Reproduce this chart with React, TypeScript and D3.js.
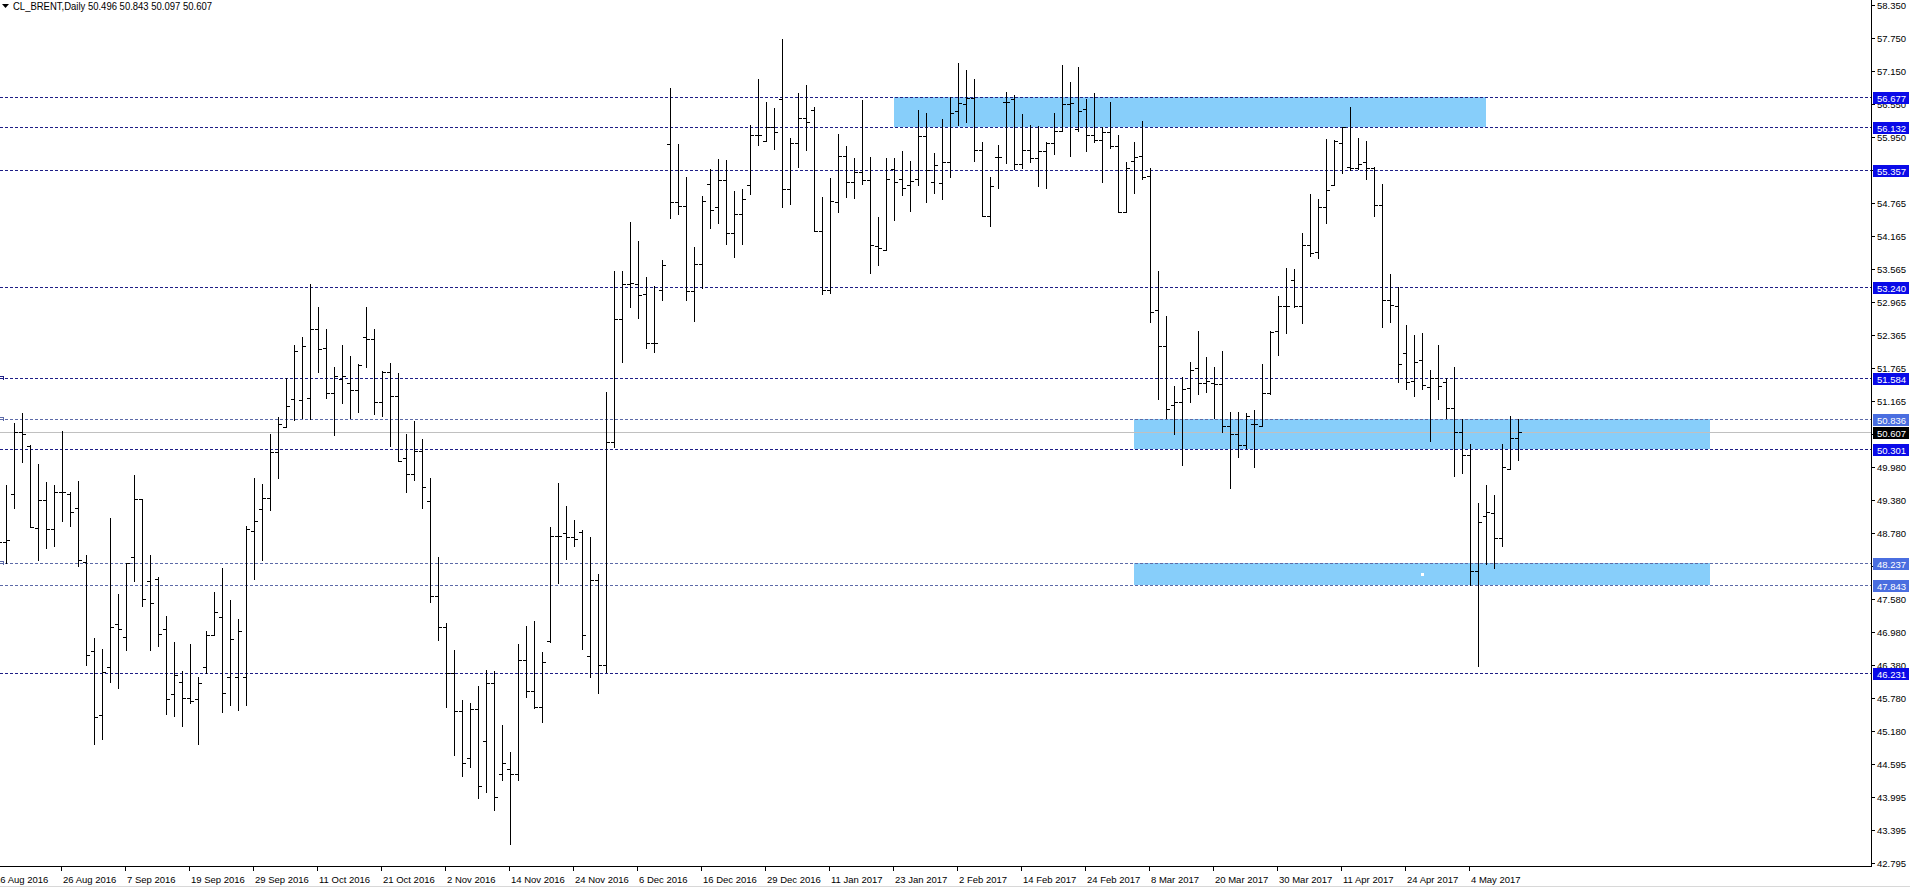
import React from 'react';
import * as d3 from 'd3';

const W = 1910;
const H = 888;
const PLOT_RIGHT = 1871;
const PLOT_BOTTOM = 866;

const symbolTitle = 'CL_BRENT,Daily';
const lastQuote = ['50.496', '50.843', '50.097', '50.607'];

// Daily OHLC bars, one entry per trading day starting 16 Aug 2016
const opens = [
  48.90, 48.61, 49.48, 50.60, 50.35, 48.86, 49.37, 48.85, 49.53, 49.48,
  49.23, 48.25, 46.63, 45.47, 46.35, 47.13, 46.90, 48.34, 49.39, 47.90,
  47.94, 47.03, 45.85, 46.08, 45.79, 45.76, 46.34, 46.92, 47.25, 46.17,
  46.16, 46.17, 48.81, 49.22, 49.41, 50.24, 50.70, 51.20, 51.19, 51.23,
  52.47, 52.14, 51.31, 51.57, 51.50, 51.37, 52.34, 52.30, 51.15, 51.69,
  51.26, 50.13, 49.84, 50.26, 49.35, 47.64, 47.07, 46.24, 45.55, 44.70,
  45.59, 45.00, 46.05, 44.40, 44.50, 44.40, 46.48, 45.91, 45.62, 46.82,
  48.73, 48.77, 48.71, 48.80, 46.54, 47.93, 46.38, 50.42, 52.65, 53.29,
  53.29, 53.11, 52.22, 53.19, 55.83, 54.77, 54.70, 53.16, 53.66, 55.10,
  54.68, 55.17, 54.21, 54.57, 55.09, 56.00, 55.88, 56.14, 56.64, 55.02,
  55.85, 56.31, 56.44, 54.26, 53.18, 54.78, 55.61, 55.15, 55.33, 55.17,
  53.98, 53.91, 55.38, 55.19, 55.09, 55.19, 55.97, 55.15, 55.13, 55.50,
  56.43, 56.56, 56.66, 55.73, 54.53, 55.60, 56.59, 56.65, 55.46, 55.72,
  55.57, 55.70, 55.84, 56.07, 56.55, 56.10, 56.46, 56.00, 55.91, 56.05,
  55.80, 54.59, 55.52, 55.61, 55.25, 52.82, 52.16, 51.09, 51.15, 51.40,
  51.76, 51.49, 51.50, 51.47, 50.72, 50.58, 50.38, 50.75, 50.72, 51.31,
  52.44, 52.89, 53.36, 52.90, 54.00, 53.87, 54.68, 55.09, 55.84, 55.42,
  55.40, 55.50, 55.40, 54.72, 53.00, 52.89, 52.05, 51.54, 51.92, 51.43,
  51.59, 51.52, 51.05, 50.60, 50.19, 48.09, 49.08, 49.14, 48.68, 49.94,
  50.496,
];
const highs = [
  49.20, 49.65, 50.78, 50.96, 50.38, 50.03, 49.70, 49.65, 50.63, 49.52,
  49.72, 48.37, 46.87, 46.67, 49.05, 47.67, 48.23, 49.83, 49.39, 48.37,
  47.98, 47.27, 46.80, 46.28, 46.76, 46.16, 47.00, 47.70, 48.14, 47.57,
  47.22, 48.91, 49.77, 49.67, 50.57, 50.88, 51.59, 52.19, 52.34, 53.29,
  52.88, 52.47, 51.78, 52.19, 51.99, 51.84, 52.88, 52.48, 51.72, 51.86,
  51.68, 50.57, 50.81, 50.49, 49.78, 48.34, 47.14, 46.66, 45.75, 45.69,
  46.00, 46.30, 46.27, 45.30, 44.80, 46.77, 47.09, 47.19, 46.62, 48.88,
  49.69, 49.26, 49.01, 48.83, 48.71, 48.04, 51.34, 53.52, 53.52, 54.42,
  54.08, 53.41, 53.26, 53.72, 56.84, 55.83, 55.24, 53.96, 54.89, 55.38,
  55.56, 55.54, 54.98, 55.02, 56.18, 57.00, 56.60, 56.48, 57.73, 55.93,
  56.76, 56.90, 56.50, 54.87, 55.22, 56.01, 55.79, 55.58, 56.62, 55.59,
  54.51, 55.57, 55.57, 55.70, 55.52, 56.45, 56.40, 55.66, 56.28, 56.69,
  57.29, 57.17, 57.01, 55.86, 55.24, 55.81, 56.77, 56.72, 56.37, 56.17,
  56.16, 55.86, 56.40, 57.26, 56.96, 57.22, 56.64, 56.75, 56.13, 56.59,
  55.99, 55.51, 55.86, 56.25, 55.40, 53.53, 52.71, 51.44, 51.60, 51.87,
  52.44, 51.96, 51.78, 52.08, 50.98, 50.97, 50.95, 51.01, 51.84, 52.44,
  53.08, 53.59, 53.56, 54.21, 54.92, 54.83, 55.92, 55.90, 56.13, 56.50,
  55.94, 55.88, 55.42, 55.11, 53.47, 53.23, 52.54, 52.37, 52.41, 51.74,
  52.18, 51.59, 51.79, 50.84, 50.40, 49.32, 49.65, 49.47, 50.39, 50.90,
  50.843,
];
const lows = [
  48.30, 48.24, 49.23, 50.06, 48.88, 48.29, 48.51, 48.54, 48.99, 48.91,
  48.18, 46.39, 44.95, 45.04, 46.08, 45.97, 46.65, 47.90, 47.45, 46.65,
  46.73, 45.49, 45.46, 45.28, 45.70, 44.95, 46.24, 46.92, 45.54, 45.66,
  45.57, 45.66, 47.95, 48.29, 49.20, 49.78, 50.70, 50.82, 50.86, 50.85,
  51.69, 51.22, 50.55, 51.14, 50.86, 50.98, 51.78, 50.94, 50.89, 50.35,
  50.09, 49.52, 49.73, 49.23, 47.53, 46.84, 45.63, 44.75, 44.37, 44.53,
  43.97, 44.08, 43.76, 44.30, 43.14, 44.30, 45.81, 45.61, 45.36, 46.80,
  47.88, 48.31, 48.55, 46.68, 46.16, 45.87, 46.26, 50.33, 51.87, 52.87,
  52.68, 52.14, 52.06, 53.00, 54.49, 54.57, 53.01, 52.62, 53.22, 54.30,
  54.39, 54.02, 53.78, 54.02, 54.93, 55.82, 55.88, 55.74, 54.69, 54.74,
  55.42, 55.72, 54.25, 53.11, 53.13, 54.59, 54.87, 54.85, 55.10, 53.49,
  53.64, 53.90, 54.45, 54.91, 54.62, 55.09, 54.78, 54.94, 54.83, 55.23,
  56.17, 56.23, 55.53, 54.52, 54.35, 55.04, 55.49, 55.37, 55.40, 55.50,
  55.06, 55.04, 55.65, 56.07, 55.62, 56.07, 55.71, 55.87, 55.15, 55.76,
  54.59, 54.59, 54.94, 55.20, 52.60, 51.20, 50.86, 50.57, 50.01, 51.15,
  51.29, 51.34, 50.86, 50.60, 49.59, 50.15, 50.31, 49.97, 50.72, 51.30,
  52.01, 52.41, 52.88, 52.58, 53.80, 53.77, 54.40, 55.08, 55.31, 55.36,
  55.37, 55.19, 54.52, 52.52, 52.61, 51.52, 51.39, 51.27, 51.39, 50.44,
  51.20, 50.86, 49.82, 49.86, 47.84, 46.36, 48.22, 48.14, 48.55, 49.94,
  50.097,
];
const closes = [
  48.62, 48.65, 50.61, 50.57, 48.89, 49.38, 48.85, 49.52, 49.53, 49.15,
  48.28, 46.57, 45.45, 46.25, 47.08, 47.03, 48.23, 49.39, 47.59, 47.51,
  46.95, 45.76, 46.20, 45.79, 45.74, 46.06, 46.92, 47.34, 45.87, 46.85,
  47.00, 48.85, 48.99, 49.41, 50.24, 50.75, 51.08, 52.08, 52.17, 52.47,
  52.12, 51.31, 51.63, 51.63, 51.37, 51.82, 52.30, 51.15, 51.70, 51.26,
  50.09, 49.84, 50.26, 49.61, 47.63, 47.07, 46.24, 45.55, 44.60, 45.59,
  44.20, 46.05, 44.00, 44.60, 44.40, 46.48, 45.91, 45.62, 46.44, 48.73,
  48.73, 48.71, 48.67, 46.93, 47.93, 46.38, 50.42, 52.65, 53.29, 53.31,
  53.09, 52.22, 52.22, 53.64, 54.77, 54.70, 53.16, 53.66, 54.79, 54.63,
  55.17, 54.21, 54.57, 54.84, 56.00, 56.00, 56.14, 56.05, 55.02, 55.85,
  56.31, 56.23, 54.26, 53.18, 54.79, 55.61, 55.15, 55.33, 55.17, 53.99,
  53.94, 55.20, 55.15, 55.04, 55.16, 55.97, 55.36, 55.45, 55.50, 56.40,
  56.57, 56.66, 55.73, 54.53, 55.06, 55.59, 56.59, 55.46, 55.72, 55.57,
  55.70, 55.84, 56.07, 56.55, 56.57, 56.42, 56.00, 55.91, 56.05, 55.80,
  54.59, 55.39, 55.60, 55.24, 52.78, 52.16, 51.02, 51.15, 51.38, 51.73,
  51.50, 51.53, 51.47, 50.72, 50.58, 50.38, 50.90, 50.75, 51.32, 52.43,
  52.89, 52.89, 52.90, 54.00, 53.85, 54.68, 55.00, 55.88, 56.13, 55.39,
  55.47, 55.39, 54.72, 53.00, 52.91, 51.85, 51.52, 51.87, 51.46, 51.59,
  51.44, 51.05, 50.60, 50.19, 48.09, 48.98, 49.15, 48.68, 49.98, 50.50,
  50.607,
];

// Time axis labels: one every 8 bars, starting at bar 0
const dateLabels = [
  '16 Aug 2016', '26 Aug 2016', '7 Sep 2016', '19 Sep 2016', '29 Sep 2016',
  '11 Oct 2016', '21 Oct 2016', '2 Nov 2016', '14 Nov 2016', '24 Nov 2016',
  '6 Dec 2016', '16 Dec 2016', '29 Dec 2016', '11 Jan 2017', '23 Jan 2017',
  '2 Feb 2017', '14 Feb 2017', '24 Feb 2017', '8 Mar 2017', '20 Mar 2017',
  '30 Mar 2017', '11 Apr 2017', '24 Apr 2017', '4 May 2017',
];
const labelStep = 8;

const priceTicks = [
  58.350, 57.750, 57.150, 56.550, 55.950, 55.350, 54.765, 54.165, 53.565,
  52.965, 52.365, 51.765, 51.165, 50.565, 49.980, 49.380, 48.780, 48.180,
  47.580, 46.980, 46.380, 45.780, 45.180, 44.595, 43.995, 43.395, 42.795,
];

// Horizontal levels
const levelPrices = [56.677, 56.132, 55.357, 53.240, 51.584, 50.836, 50.301, 48.237, 47.843, 46.231];
const levelKinds = ['dark', 'dark', 'dark', 'dark', 'dark', 'light', 'dark', 'light', 'light', 'dark'];
const markedLevels = [51.584, 50.836, 48.237];

// Zones (bar index from/to, price top/bottom)
const zoneFrom = [112, 142, 142];
const zoneTo = [186, 214, 214];
const zoneTop = [56.677, 50.836, 48.237];
const zoneBottom = [56.132, 50.301, 47.843];

const bidPrice = 50.607;

const FONT = '"Liberation Sans", Arial, sans-serif';
const LINE_DARK = '#1e1e86';
const LINE_LIGHT = '#5c6aa8';
const LABEL_DARK = '#0a0ae8';
const LABEL_LIGHT = '#4a6ee0';

export default function App() {
  const n = opens.length;
  const x = d3.scaleLinear().domain([0, n - 1]).range([-2, -2 + 8 * (n - 1)]);
  const y = d3.scaleLinear().domain([42.795, 58.35]).range([863, 5]);
  const px = (i: number) => Math.round(x(i));
  const py = (p: number) => Math.round(y(p));

  const bars = d3.range(n).map((i) => {
    const xi = px(i);
    const yh = py(highs[i]);
    const yl = py(lows[i]);
    return (
      <g key={i}>
        <rect x={xi} y={yh} width={1} height={Math.max(1, yl - yh + 1)} fill="#000" />
        <rect x={xi - 3} y={py(opens[i])} width={3} height={1} fill="#000" />
        <rect x={xi + 1} y={py(closes[i])} width={3} height={1} fill="#000" />
      </g>
    );
  });

  return (
    <svg
      width={W}
      height={H}
      style={{ position: 'absolute', left: 0, top: 0, background: '#fff' }}
      shapeRendering="crispEdges"
    >
      <rect x={0} y={0} width={W} height={H} fill="#fff" />

      {/* zones */}
      {zoneFrom.map((f, k) => (
        <rect
          key={'z' + k}
          x={px(f)}
          y={py(zoneTop[k])}
          width={px(zoneTo[k]) - px(f)}
          height={py(zoneBottom[k]) - py(zoneTop[k])}
          fill="#87cefa"
        />
      ))}

      {/* bid line */}
      <line x1={0} x2={PLOT_RIGHT} y1={py(bidPrice) + 0.5} y2={py(bidPrice) + 0.5} stroke="#c0c0c0" strokeWidth={1} />

      {/* horizontal levels */}
      {levelPrices.map((p, k) => (
        <line
          key={'l' + k}
          x1={0}
          x2={PLOT_RIGHT}
          y1={py(p) + 0.5}
          y2={py(p) + 0.5}
          stroke={levelKinds[k] === 'dark' ? LINE_DARK : LINE_LIGHT}
          strokeWidth={1}
          strokeDasharray="3,2"
        />
      ))}
      {markedLevels.map((p, k) => (
        <path
          key={'m' + k}
          d={`M0,${py(p) - 1.5}H3.5V${py(p) + 1.5}`}
          fill="none"
          stroke={p === 51.584 ? LINE_DARK : LINE_LIGHT}
          strokeWidth={1}
        />
      ))}
      <rect x={1421} y={573} width={3} height={3} fill="#fff" />

      {/* bars */}
      {bars}

      {/* axes */}
      <line x1={PLOT_RIGHT + 0.5} x2={PLOT_RIGHT + 0.5} y1={0} y2={PLOT_BOTTOM + 1} stroke="#000" />
      <line x1={0} x2={PLOT_RIGHT + 1} y1={PLOT_BOTTOM + 0.5} y2={PLOT_BOTTOM + 0.5} stroke="#000" />
      <line x1={0} x2={W} y1={886.5} y2={886.5} stroke="#d8d8d8" />

      {/* price ticks */}
      {priceTicks.map((p) => (
        <g key={'t' + p}>
          <line x1={PLOT_RIGHT + 1} x2={PLOT_RIGHT + 4} y1={py(p) + 0.5} y2={py(p) + 0.5} stroke="#000" />
          <text x={1877} y={py(p) + 4} fontFamily={FONT} fontSize={9.5} fill="#000">
            {p.toFixed(3)}
          </text>
        </g>
      ))}

      {/* level labels */}
      {levelPrices.map((p, k) => (
        <g key={'lb' + k}>
          <rect
            x={1873}
            y={py(p) - 5}
            width={36}
            height={12}
            fill={levelKinds[k] === 'dark' ? LABEL_DARK : LABEL_LIGHT}
          />
          <text x={1877} y={py(p) + 4.5} fontFamily={FONT} fontSize={9.5} fill="#fff">
            {p.toFixed(3)}
          </text>
        </g>
      ))}
      <rect x={1873} y={py(bidPrice) - 5} width={36} height={12} fill="#000" />
      <text x={1877} y={py(bidPrice) + 4.5} fontFamily={FONT} fontSize={9.5} fill="#fff">
        {bidPrice.toFixed(3)}
      </text>

      {/* time axis */}
      {dateLabels.map((lab, k) => {
        const xi = px(k * labelStep) - 1;
        return (
          <g key={'d' + k}>
            <line x1={xi + 0.5} x2={xi + 0.5} y1={PLOT_BOTTOM + 1} y2={PLOT_BOTTOM + 5} stroke="#000" />
            <text x={k === 0 ? xi - 2 : xi + 2} y={883} fontFamily={FONT} fontSize={9.5} fill="#000">
              {lab}
            </text>
          </g>
        );
      })}

      {/* title */}
      <path d="M2,4H9L5.5,8Z" fill="#000" shapeRendering="auto" />
      <text
        x={13}
        y={10}
        fontFamily={FONT}
        fontSize={10.5}
        fill="#000"
        textLength={199}
        lengthAdjust="spacingAndGlyphs"
      >
        {symbolTitle + '  ' + lastQuote.join(' ')}
      </text>
    </svg>
  );
}
